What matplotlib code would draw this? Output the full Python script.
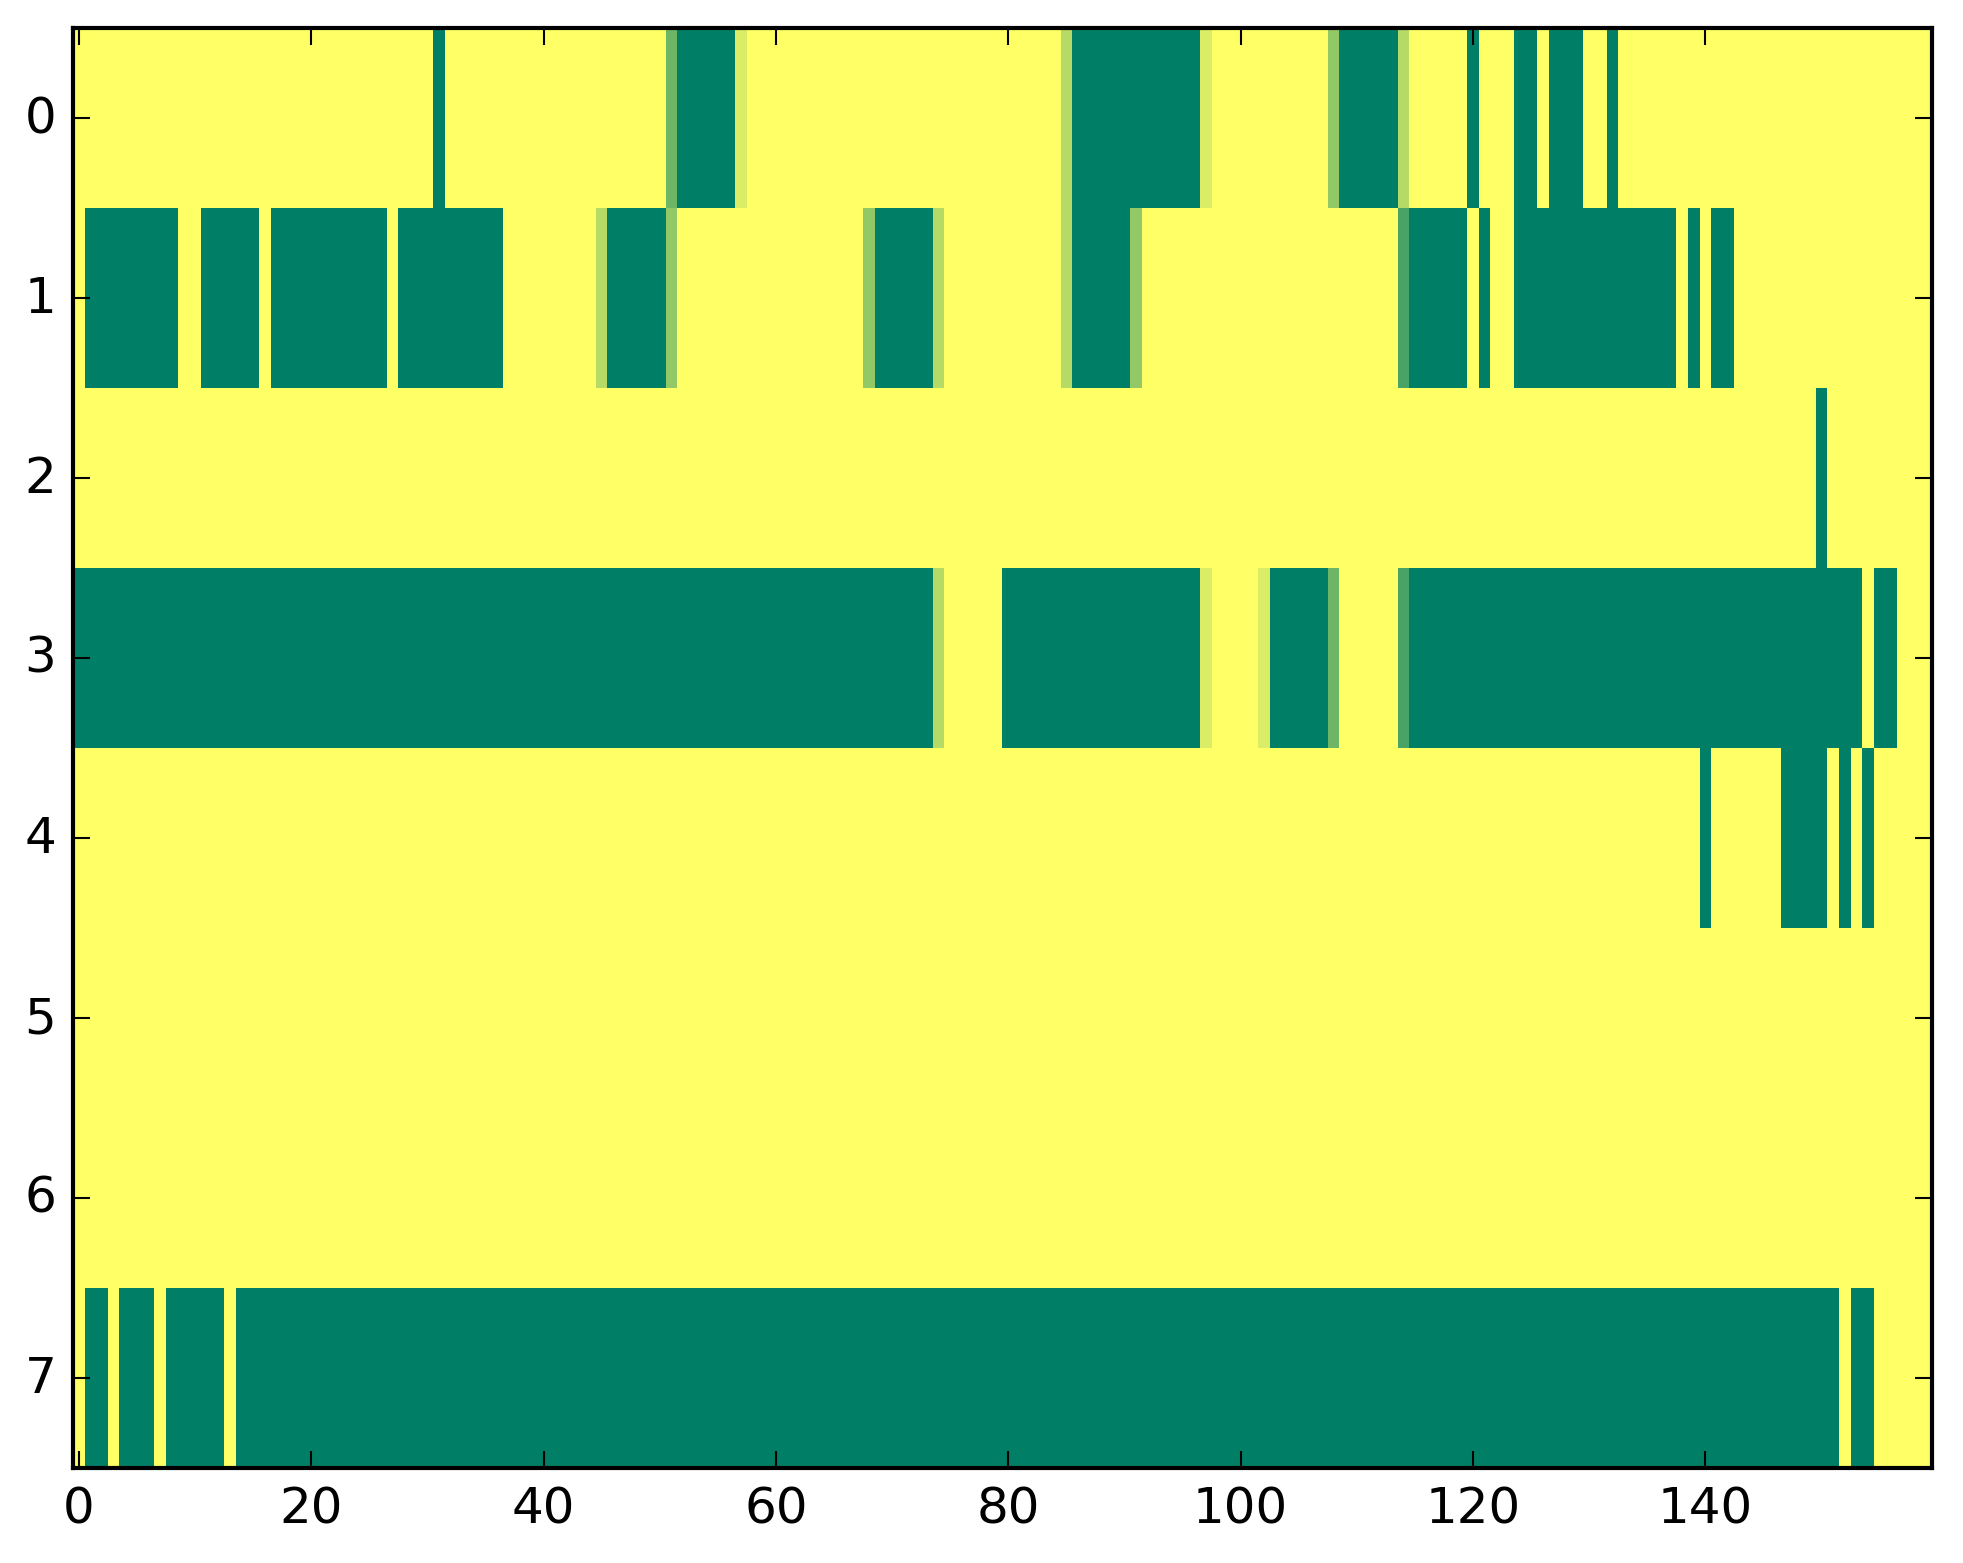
import numpy as np
import matplotlib
matplotlib.use("Agg")
import matplotlib.pyplot as plt

# Cell values in sevenths (7 = 1.0 yellow, 0 = 0.0 green), as (value, run length) per row
row0 = [(7,31),(0,1),(7,19),(3,1),(0,5),(6,1),(7,27),(5,1),(0,11),(6,1),(7,10),(4,1),
        (0,5),(5,1),(7,5),(0,1),(7,3),(0,2),(7,1),(0,3),(7,2),(0,1),(7,27)]
row1 = [(7,1),(0,8),(7,2),(0,5),(7,1),(0,10),(7,1),(0,9),(7,8),(5,1),(0,5),(4,1),(7,16),
        (4,1),(0,5),(5,1),(7,10),(5,1),(0,5),(4,1),(7,22),(2,1),(0,5),(7,1),(0,1),(7,2),
        (0,14),(7,1),(0,1),(7,1),(0,2),(7,17)]
row2 = [(7,150),(0,1),(7,9)]
row3 = [(0,74),(5,1),(7,5),(0,17),(6,1),(7,4),(6,1),(0,5),(3,1),(7,5),(2,1),(0,39),
        (7,1),(0,2),(7,3)]
row4 = [(7,140),(0,1),(7,6),(0,4),(7,1),(0,1),(7,1),(0,1),(7,5)]
row5 = [(7,160)]
row6 = [(7,160)]
row7 = [(7,1),(0,2),(7,1),(0,3),(7,1),(0,5),(7,1),(0,138),(7,1),(0,2),(7,5)]

rows = [row0, row1, row2, row3, row4, row5, row6, row7]
x_ticks = [0, 20, 40, 60, 80, 100, 120, 140]
y_ticks = [0, 1, 2, 3, 4, 5, 6, 7]

def expand(runs):
    vals = [v for v, n in runs]
    counts = [n for v, n in runs]
    return np.repeat(np.array(vals, dtype=float) / 7.0, counts)

data = np.vstack([expand(r) for r in rows])

plt.style.use('classic')
plt.rcParams['font.family'] = ['DejaVu Sans']
plt.rcParams['font.size'] = 12

W, H, DPI = 1963, 1564, 300
fig = plt.figure(figsize=(W / DPI, H / DPI), dpi=DPI, facecolor='white')
ax = fig.add_axes([73 / W, 1 - 1469 / H, (1932 - 73) / W, (1469 - 29) / H])
ax.imshow(data, cmap='summer', vmin=0, vmax=1, aspect='auto', interpolation='nearest')
ax.set_xticks(x_ticks)
ax.set_yticks(y_ticks)
ax.set_xlim(-0.5, data.shape[1] - 0.5)
ax.set_ylim(data.shape[0] - 0.5, -0.5)
ax.tick_params(direction='in', top=True, right=True)

fig.savefig('out.png', dpi=DPI, facecolor='white')
